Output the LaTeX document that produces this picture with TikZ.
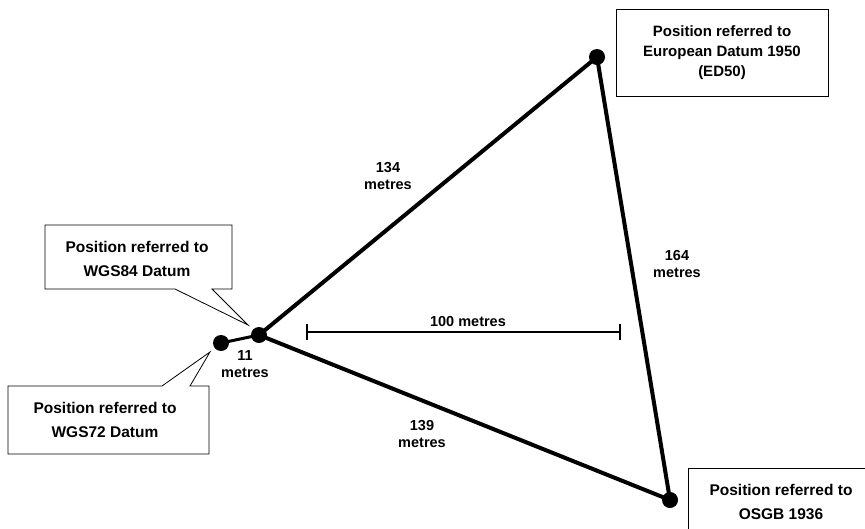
\documentclass[tikz,border=0pt]{standalone}
\usepackage{fontspec}
\setmainfont{Liberation Sans}
\begin{document}
\begin{tikzpicture}[x=1pt,y=-1pt,
  dot/.style={circle,fill=black,inner sep=0pt,minimum size=16pt},
  tri/.style={line width=4pt,line cap=round,line join=round},
  boxline/.style={line width=0.8pt,fill=white},
  lab/.style={font=\bfseries\fontsize{14.5}{17}\selectfont,align=center,inner sep=1pt},
  btxt/.style={font=\bfseries\fontsize{15.5}{24.5}\selectfont,align=center,inner sep=0pt}]
\useasboundingbox (0,0) rectangle (865,528);
\clip (0,0) rectangle (865,528);
% points
\node[dot] (ed) at (597,57) {};
\node[dot] (w84) at (259,335) {};
\node[dot] (w72) at (221,343) {};
\node[dot] (os) at (670,500) {};
\draw[tri] (w84.center) -- (ed.center) -- (os.center) -- cycle;
\draw[line width=3pt] (w72.center) -- (w84.center);
% callouts
\draw[boxline] (45,225) -- (232,225) -- (232,289) -- (212,289) -- (248,325) -- (175,289) -- (45,289) -- cycle;
\node[btxt] (t84) at (137,259) {Position referred to\\WGS84 Datum};
\draw[boxline] (8,386) -- (162,386) -- (210,352) -- (190,386) -- (209,386) -- (209,454) -- (8,454) -- cycle;
\node[btxt] (t72) at (105,420) {Position referred to\\WGS72 Datum};
\draw[boxline] (616,9) rectangle (828,96);
\node[btxt,font=\bfseries\fontsize{15}{20}\selectfont] (ted) at (722,53) {Position referred to\\European Datum 1950\\(ED50)};
\draw[boxline] (688,468) rectangle (880,540);
\node[btxt] (tos) at (781,502) {Position referred to\\OSGB 1936};
% distance labels
\node[lab] (l134) at (388,176) {134\\metres};
\node[lab] (l164) at (677,264) {164\\metres};
\node[lab] (l11) at (245,364) {11\\metres};
\node[lab] (l139) at (422,434) {139\\metres};
% scale bar
\coordinate (sa) at (307,332);
\coordinate (sb) at (620,332);
\draw[line width=1.2pt] (sa) -- (sb);
\draw[line width=1.2pt] (sa) ++(0,-8) -- ++(0,16);
\draw[line width=1.2pt] (sb) ++(0,-8) -- ++(0,16);
\node[lab] (l100) at (468,322) {100 metres};
\end{tikzpicture}
\end{document}
